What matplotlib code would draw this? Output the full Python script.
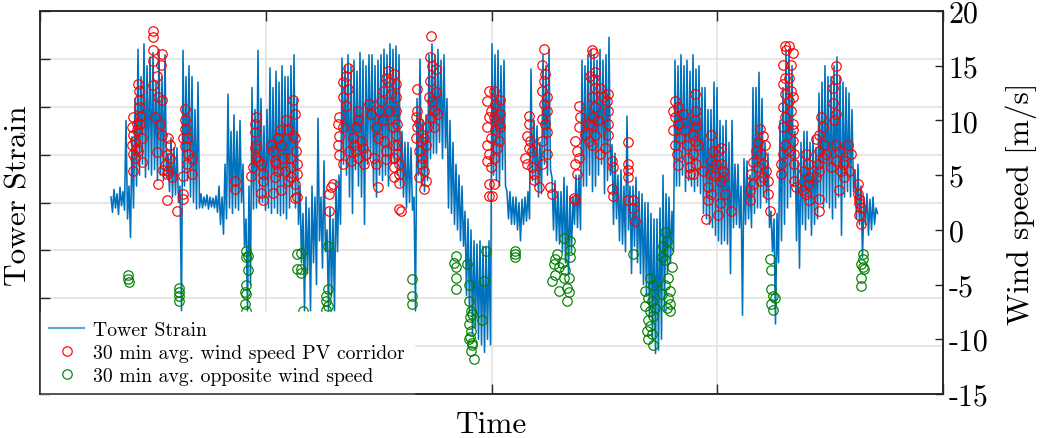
import numpy as np
import matplotlib
matplotlib.use("Agg")
import matplotlib.pyplot as plt
from matplotlib.lines import Line2D

plt.rcParams['font.family'] = 'serif'
plt.rcParams['font.serif'] = ['cmr10']
plt.rcParams['mathtext.fontset'] = 'cm'
plt.rcParams['axes.unicode_minus'] = False
plt.rcParams['axes.formatter.use_mathtext'] = True

# ---------------- data ----------------
# Tower strain: upper and lower swing per sampling interval (left axis, same numeric range as right axis)
strain_start, strain_end = 7.1, 83.6
strain_high = [
    3.0, 3.7, 3.3, 3.9, 3.5, 10.0, 4.0, 8.5, 12.0, 16.5, 14.0, 17.0, 15.0, 15.8,
    16.2, 13.5, 16.5, 14.0, 16.0, 7.0, 8.4, 7.5, 7.5, 4.0, 16.4, 14.0, 15.0,
    14.0, 11.0, 13.5, 3.3, 3.0, 3.2, 3.0, 2.9, 3.1, 4.0, 3.0, 6.0, 12.4, 9.0,
    10.5, 9.0, 10.0, 6.0, 1.0, 4.0, 13.0, 11.0, 16.4, 12.0, 9.5, 11.0, 14.8, 13.0, 14.5,
    13.5, 15.0, 14.0, 14.0, 15.0, 16.0, 12.0, 4.0, 1.5, 3.0, 2.0, 4.0, 3.0,
    10.2, 3.0, 6.3, 0.0, 2.0, 1.0, 4.5, 5.0,
    15.7, 15.0, 16.0, 15.0, 15.5, 14.5, 16.2, 15.5, 15.0, 16.0, 16.0, 15.0, 15.5, 16.0, 16.5, 16.0, 17.0, 16.5, 16.8,
    16.0, 9.0, 8.0, 8.0, 7.5, 3.0, 12.0, 15.6, 10.0, 10.5,
    16.0, 17.0, 16.0, 16.5, 15.5, 16.0, 12.0, 10.0, 8.0, 6.0, 5.0, 4.0,
    1.7, 1.0, 0.0, -1.0, -1.3, -1.0, -1.5, -1.5, -1.0,
    17.0, 16.0, 16.4, 15.0, 15.5, 3.5, 3.5, 3.0, 3.0, 2.5, 2.8, 3.0, 3.5,
    14.7, 10.0, 9.5, 8.0, 16.0, 15.0, 16.5, 4.8, 4.5, 3.5, 3.5, 4.8, 4.0, 3.0, 3.0, 5.0, 5.0,
    15.5, 15.0, 16.0, 16.5, 16.0, 15.5, 16.5, 15.5, 16.0, 17.6,
    7.8, 7.0, 5.0, 5.5, 4.0, 10.4, 4.0, 4.0, 4.8, 3.5, 3.3,
    2.5, 2.5, 1.5, 1.0, 1.0, 2.0, 5.0, 3.3, 3.0, 1.7,
    15.5, 15.0, 16.0, 15.0, 15.5, 14.5, 16.0, 14.7, 15.0,
    13.0, 13.0, 11.0, 11.0, 13.5, 13.0, 10.0, 9.5, 10.0, 8.0, 10.0, 6.0, 6.0, 4.0,
    6.5, 6.3, 5.0, 13.0, 13.0, 14.4, 12.0, 8.0, 7.0, 1.7, 1.0, 1.5,
    10.0, 13.0, 16.4, 16.5, 15.0, 9.0, 6.3, 8.0, 9.0, 9.0, 8.0, 8.5, 7.5,
    12.5, 13.5, 15.0, 14.0, 14.0, 15.0, 15.8, 14.0, 13.5, 13.0, 12.5, 11.0,
    5.5, 6.0, 4.0, 3.0, 3.3, 2.8, 3.0, 2.0,
]
strain_low = [
    1.6, 2.0, 1.4, 2.2, 1.8, 1.0, -0.7, 2.0, 4.0, 5.0, 6.0, 4.8, 5.5, 5.0,
    5.5, 4.5, 5.0, 4.5, 4.8, 3.5, 3.0, 3.2, 2.5, -7.4, 4.0, 4.5, 3.0,
    2.5, 1.9, 2.0, 2.0, 2.2, 1.9, 2.1, 2.0, 1.6, 0.5, -0.4, 1.0, 2.0, 1.5,
    2.0, 1.8, 2.5, -1.5, -7.4, -5.0, 1.9, 2.0, 2.5, 2.5, 1.8, 2.0, 1.5, 2.0, 1.5,
    1.3, 1.5, 1.0, 2.0, 3.0, 2.0, 0.5, -3.0, -7.4, -4.0, -7.4, -3.0, -5.0,
    -1.0, -3.5, -2.0, -7.4, -6.0, -7.4, -2.0, 0.5,
    6.0, 5.0, 3.0, 1.5, 5.5, 4.0, 3.0, 0.5, 6.0, 6.5, 4.0, 3.0, 5.0, 4.5, 5.0, 4.0, 6.0, 6.0, 5.0,
    4.0, 3.0, 2.0, 2.5, 1.8, -7.4, 5.0, 4.0, 3.5, 4.5,
    6.5, 7.0, 7.0, 8.0, 6.5, 7.5, 2.0, 1.5, 0.5, 0.0, -1.0, -1.5,
    -6.0, -7.5, -9.5, -9.0, -10.0, -10.5, -11.2, -10.0, -10.5,
    5.0, 4.5, 4.0, 5.5, 4.0, 1.0, 0.5, 0.5, 0.0, -1.0, 0.5, 0.8, 1.0,
    4.5, 4.0, 3.0, 3.3, 6.0, 5.0, 5.5, 0.0, -1.0, -1.3, -2.0, -3.0, -4.0, -2.0, 0.5, 0.2, 0.0,
    4.0, 4.0, 5.0, 3.5, 4.0, 5.0, 6.0, 3.3, 4.5, 5.0,
    0.5, 1.0, -1.0, -1.3, -2.0, 0.0, -4.0, -1.5, -3.0, -4.0, -5.0,
    -6.0, -8.0, -10.0, -11.3, -11.0, -10.0, -7.4, -4.0, -3.0, -2.0,
    4.0, 4.0, 5.0, 3.5, 4.5, 4.0, 3.5, 4.0, 3.3,
    1.5, 1.0, 0.5, 0.2, -0.5, -1.0, -1.3, -1.0, -1.3, -4.0, 0.2, 0.5, 0.2, -7.8,
    0.5, 1.0, 0.2, 1.5, 2.0, 2.0, 3.0, 2.5, 0.2, -2.0, -8.6, -3.0,
    -1.0, 0.5, 2.0, 3.0, 4.0, -1.0, -3.5, 0.5, 0.0, 1.0, -0.5, 0.5, 1.0,
    2.5, 2.0, 2.5, 2.0, 1.0, 2.0, 3.0, -0.5, 3.0, 3.5, 3.0, 3.5,
    1.0, 0.5, -2.5, 0.5, -0.5, 0.0, 0.5, 1.5,
]

# 30 min avg. wind speed in PV corridor [m/s]
red_time = [
    9.33, 9.17, 9.33, 9.5, 9.17, 9.33, 9.67, 9.83, 9.93, 9.93, 9.93, 10.0, 10.0, 9.67, 10.17, 9.83, 10.17, 9.33, 9.67, 9.5,
    11.27, 11.33, 11.27, 11.33, 12.17, 12.1, 11.67, 11.33, 12.17, 11.83, 11.5, 12.0, 12.17, 11.67, 11.83,
    12.83, 13.0, 12.67, 13.0, 12.5, 12.33, 12.83, 12.67, 13.17, 12.67,
    14.5, 14.5, 14.5, 14.67, 14.33, 14.5, 14.83, 15.17, 14.67, 15.17, 14.33, 14.33, 14.33, 13.73,
    19.53, 19.53, 21.63, 21.53, 21.47, 21.57, 21.47, 21.63, 21.3, 21.13, 22.13, 22.3, 22.3, 22.13, 22.3, 21.8,
    23.13, 23.3, 23.47, 23.63, 23.8, 23.97, 24.13, 23.8, 23.47, 23.3, 24.13, 24.63, 24.8, 24.97, 24.97, 25.13, 25.47,
    25.3, 25.47, 25.3, 25.47, 25.63, 25.47, 24.8, 24.47, 24.3, 25.7, 25.7, 25.65,
    28.93, 29.1, 29.27, 28.93,
    30.77, 30.6, 30.27, 30.77, 30.27, 30.6, 29.93, 29.77, 30.27, 29.93, 29.77, 29.93, 30.27, 31.77, 31.77, 31.6, 31.27,
    31.43, 31.6, 31.77, 32.27, 32.1, 32.6, 32.43, 33.43, 33.6, 33.77, 33.93, 34.1, 34.27, 34.6, 34.77, 34.93, 35.1,
    34.27, 33.6, 33.77, 34.43, 34.6, 34.6, 35.27, 35.43, 35.43, 35.43, 35.43, 34.93, 32.93, 33.1, 30.93, 31.1,
    35.57, 35.57, 35.57, 35.73, 35.57, 35.73, 35.73, 35.9, 35.9, 35.9, 35.9, 36.07, 35.4,
    37.73, 37.73, 37.57, 37.9, 37.73, 37.57, 38.07, 37.9, 38.23, 38.07, 37.9, 38.4, 38.57, 38.4, 38.57, 38.73, 38.4,
    39.07, 39.0, 39.23, 39.57, 39.0, 39.57, 38.9, 39.23, 39.4, 39.07, 39.73, 39.4,
    44.9, 44.73, 45.07, 44.9, 44.73, 45.07, 44.73, 44.9, 44.73, 45.07, 44.9, 44.9,
    45.37, 45.53, 46.03, 46.03, 45.87, 46.03, 45.37, 45.53, 45.87, 45.7, 45.37, 45.37, 45.2,
    48.87, 48.87, 48.7, 49.03, 48.87, 49.2, 48.53, 48.7, 49.2, 49.37, 49.37, 49.87,
    50.37, 50.2, 50.53, 50.37, 50.2, 50.7, 50.37, 50.7, 50.2, 50.53, 50.7, 50.2, 50.7, 50.2, 51.03, 51.2,
    53.87, 54.03, 53.87, 53.53, 53.7, 53.87, 53.53, 53.7, 53.37, 53.53, 54.53, 54.87, 54.87, 55.03, 55.2,
    55.33, 55.5, 55.33, 55.5, 55.17, 55.5, 55.33, 55.17, 55.5, 55.17, 56.0, 56.33, 56.83, 56.83, 56.67, 56.83,
    56.83, 56.5, 56.0, 55.83, 57.17, 57.33, 57.17, 57.33,
    58.83, 58.83, 58.83, 58.83, 58.83, 59.33, 59.33, 59.5,
    63.5, 63.33, 63.83, 63.5, 63.83, 63.33, 64.0, 63.5, 63.67, 63.83, 64.33, 64.5, 64.67, 64.83, 65.0,
    65.47, 65.63, 65.47, 65.63, 65.3, 65.47, 65.8, 65.3, 65.63, 65.3, 66.3, 64.97,
    67.13, 67.3, 67.8, 68.13, 67.13, 67.63, 68.13, 68.3, 66.97, 67.47, 67.97, 66.8, 67.13, 66.8, 68.47, 67.97,
    67.8, 66.63, 69.13, 68.3,
    71.97, 72.3, 71.8, 72.47, 71.63, 72.13, 71.3, 72.3, 71.8, 72.63, 71.13, 72.3, 72.8, 71.3, 70.97, 72.8, 70.97,
    72.97, 71.97,
    74.47, 74.63, 74.3, 74.47, 74.3, 74.47, 74.3, 74.47, 74.3, 74.47, 74.3, 74.13, 74.13,
    74.93, 75.27, 75.1, 74.93, 75.1, 74.93, 75.27, 75.1, 75.27, 75.27, 75.27, 74.93, 75.43, 75.43, 75.43, 75.6,
    76.6, 76.77, 76.43, 76.93, 76.77, 76.27, 76.6, 76.93, 77.6, 78.1, 78.27, 77.93, 78.43, 77.93, 78.27, 77.77,
    77.93, 77.6, 78.6, 77.93, 77.93, 79.1,
    79.6, 79.6, 79.27, 79.27, 79.6, 79.43, 79.6, 79.93, 80.77, 81.1, 80.43, 80.1, 80.93, 80.43, 79.93, 79.6, 80.27,
    81.77, 81.77, 81.93, 82.1, 81.93, 82.1, 81.93,
]
red_speed = [
    10.3, 9.4, 8.7, 8.1, 7.8, 6.9, 7.5, 13.3, 12.7, 11.9, 11.2, 10.4, 9.7, 9.1, 8.4, 7.2, 6.2, 5.4, 9.7, 6.6,
    18.2, 17.6, 16.4, 15.4, 16.1, 15.1, 14.1, 13.2, 11.9, 12.1, 10.3, 9.7, 8.7, 7.1, 4.2,
    8.4, 7.8, 6.8, 6.6, 5.9, 5.5, 5.4, 5.1, 4.8, 2.7,
    11.0, 10.0, 9.2, 8.4, 8.4, 7.7, 6.9, 6.5, 6.0, 5.1, 4.9, 3.3, 2.8, 1.7,
    4.5, 3.7, 10.3, 9.7, 8.9, 7.8, 7.5, 6.6, 5.7, 4.9, 6.0, 5.1, 4.5, 3.4, 2.7, 6.3,
    7.8, 7.2, 6.3, 6.0, 8.4, 9.1, 7.8, 5.4, 4.8, 3.4, 3.6, 10.0, 9.1, 6.6, 5.7, 4.8, 4.2,
    11.9, 10.6, 8.7, 8.4, 7.2, 2.9, 4.5, 5.4, 6.6, 5.1, 6.0, 3.0,
    3.3, 3.9, 4.2, 1.7,
    14.8, 14.1, 13.5, 12.9, 12.1, 11.3, 10.3, 9.7, 9.4, 8.6, 7.8, 6.8, 6.0, 10.9, 10.0, 9.4, 8.4,
    7.8, 7.2, 6.6, 7.5, 8.1, 6.9, 6.0, 6.6, 6.0, 3.9, 10.9, 11.8, 12.7, 13.9, 14.5, 13.5, 12.4,
    10.0, 9.4, 8.4, 8.1, 7.2, 6.5, 9.4, 7.8, 6.6, 5.7, 4.8, 10.9, 11.5, 10.6, 7.2, 6.3,
    13.3, 12.1, 10.9, 9.7, 8.7, 7.8, 6.9, 6.0, 5.1, 4.3, 1.9, 1.7, 14.2,
    12.9, 10.9, 10.3, 9.8, 9.4, 8.4, 8.1, 7.2, 6.6, 6.0, 4.8, 5.4, 4.5, 3.7, 7.8, 9.4, 8.4,
    17.7, 15.8, 15.0, 14.7, 13.6, 12.6, 12.1, 11.8, 10.9, 10.3, 10.6, 9.4,
    12.7, 11.8, 10.9, 10.3, 9.4, 8.4, 7.8, 6.9, 6.3, 5.7, 4.2, 3.1,
    12.7, 11.5, 11.9, 10.6, 9.7, 9.4, 10.3, 9.1, 8.1, 7.5, 6.6, 4.2, 3.1,
    10.4, 9.7, 8.6, 8.1, 7.5, 7.2, 6.6, 6.0, 5.7, 5.1, 4.6, 3.9,
    16.5, 15.1, 14.2, 13.6, 12.7, 12.1, 11.5, 10.9, 10.1, 9.7, 8.9, 8.1, 6.9, 6.0, 3.9, 3.3,
    11.3, 10.3, 9.4, 8.1, 7.2, 6.6, 6.0, 5.1, 2.9, 2.7, 8.7, 9.7, 8.1, 14.1, 16.4,
    16.2, 14.4, 13.8, 13.0, 12.1, 11.2, 10.3, 9.5, 8.7, 7.8, 13.0, 12.1, 12.4, 10.9, 11.8, 9.7,
    8.7, 7.5, 6.9, 10.0, 6.3, 5.7, 3.7, 3.1,
    8.0, 6.0, 5.5, 4.8, 2.7, 2.7, 2.0, 0.8,
    11.8, 10.9, 11.2, 10.3, 9.7, 9.1, 8.4, 7.8, 6.9, 5.9, 10.6, 9.1, 7.8, 6.6, 5.1,
    12.4, 10.9, 10.0, 9.5, 8.7, 8.1, 7.8, 6.9, 6.0, 5.1, 5.4, 5.7,
    8.7, 7.2, 7.2, 7.5, 6.3, 6.0, 6.0, 5.4, 5.1, 4.9, 4.5, 3.9, 3.3, 2.7, 3.3, 2.5,
    1.4, 1.0, 1.7, 4.8,
    9.2, 8.6, 8.0, 7.8, 7.2, 6.9, 6.2, 6.0, 5.7, 5.4, 5.1, 4.8, 4.5, 4.2, 3.6, 3.3, 2.7,
    1.7, 4.5,
    16.8, 16.4, 15.1, 13.9, 13.3, 12.4, 11.2, 10.3, 9.4, 7.8, 6.9, 6.0, 5.1,
    16.8, 16.2, 15.1, 13.9, 12.7, 11.8, 12.1, 10.9, 9.7, 9.1, 8.1, 7.2, 6.9, 6.0, 4.5, 3.9,
    6.9, 6.0, 5.4, 4.8, 4.2, 3.6, 3.3, 2.7, 8.3, 10.3, 9.4, 8.7, 7.8, 7.2, 6.6, 6.0,
    5.4, 4.8, 6.9, 2.8, 1.7, 5.7,
    15.0, 13.8, 13.0, 11.6, 10.6, 10.0, 7.8, 7.2, 7.8, 6.9, 6.3, 5.4, 5.4, 4.8, 3.6, 6.3, 6.0,
    4.2, 3.3, 2.5, 2.0, 1.4, 0.5, 2.8,
]

# 30 min avg. opposite wind speed [m/s]
green_time = [
    8.83, 8.83, 8.93, 13.9, 13.9, 13.9, 13.9,
    20.63, 20.8, 20.63, 20.8, 20.63, 20.47, 20.63, 20.47, 20.63, 25.73, 25.73,
    26.1, 26.1, 26.1, 26.27, 28.77, 28.77, 28.6, 28.6, 28.77, 28.6,
    37.23, 37.23, 37.23, 41.57, 41.4, 41.57, 41.57, 41.57, 42.73, 42.9, 42.9, 43.07, 43.23, 42.9, 43.07,
    42.9, 43.23, 43.07, 43.4, 44.23, 44.4, 44.57, 43.0, 43.15, 42.95,
    47.53, 47.53, 47.53, 52.37, 53.03, 53.03, 51.7, 53.03, 51.37, 51.87, 52.53, 51.53, 52.37, 52.87,
    51.2, 52.7, 51.87, 52.87, 52.7, 52.2, 51.53,
    59.33, 61.0, 61.33, 60.5, 60.83, 61.17, 60.5, 61.5, 61.0, 61.33, 60.83, 61.0, 60.67, 61.17, 60.83, 61.33,
    62.5, 62.67, 62.33, 62.83, 62.17, 62.5, 63.17, 62.83, 62.5, 63.0, 62.17, 62.83, 63.0, 62.67, 63.0,
    72.97, 73.13, 73.13, 73.3, 73.47, 73.13, 73.3,
    82.27, 82.27, 82.1, 82.27, 82.43, 82.1, 82.1,
]
green_speed = [
    -4.1, -4.5, -4.8, -5.3, -5.7, -6.0, -6.5,
    -1.9, -2.4, -2.5, -3.7, -5.0, -5.7, -5.9, -6.8, -7.4, -2.2, -3.6,
    -2.1, -3.6, -3.9, -7.4, -1.5, -5.4, -6.0, -6.5, -7.0, -7.3,
    -4.5, -6.0, -6.8, -2.4, -3.0, -3.4, -4.4, -5.4, -3.1, -5.0, -6.5, -7.4, -7.7, -8.6, -9.2,
    -10.0, -10.5, -11.1, -11.8, -8.2, -4.7, -1.9, -9.8, -10.3, -8.0,
    -1.9, -2.2, -2.5, -0.7, -1.0, -1.8, -2.2, -2.5, -3.1, -3.4, -3.7, -4.1, -4.4, -4.4,
    -4.7, -5.3, -5.6, -5.7, -6.5, -3.0, -2.7,
    -2.2, -4.4, -5.0, -5.6, -6.2, -6.5, -7.0, -7.1, -7.4, -7.9, -8.2, -8.8, -9.2, -9.5, -10.0, -10.5,
    -0.2, -1.0, -1.5, -1.9, -2.5, -2.8, -3.4, -4.4, -5.0, -5.6, -5.9, -6.2, -6.8, -7.1, -7.4,
    -2.7, -3.7, -5.4, -6.0, -6.2, -6.8, -7.3,
    -2.2, -2.7, -3.1, -3.4, -3.6, -4.4, -5.1,
]

speed_ticks = [-15, -10, -5, 0, 5, 10, 15, 20]
speed_tick_labels = ['-15', '-10', '-5', '0', '5', '10', '15', '20']
time_limits = (0, 90.3)
speed_limits = (-15, 20)

labels = ['Tower Strain', '30 min avg. wind speed PV corridor', '30 min avg. opposite wind speed']

# ---------------- plot ----------------
blue = '#0072BD'
red = '#FF0000'
green = '#008000'
dark = '#262626'

fig = plt.figure(figsize=(10.49, 4.39), dpi=100)
ax = fig.add_axes([40 / 1049, 1 - 395 / 439, 903 / 1049, 383 / 439])

# the strain record swings between its upper and lower value in every sampling interval
n = len(strain_high)
t_high = np.linspace(strain_start, strain_end, n)
half = (strain_end - strain_start) / (n - 1) / 2
t_low = t_high + half
strain_t = np.column_stack([t_high, t_low]).ravel()
strain_v = np.column_stack([strain_high, strain_low]).ravel()
ax.plot(strain_t, strain_v, color=blue, lw=1.15, zorder=2)

ax.set_xlim(*time_limits)
ax.set_ylim(*speed_limits)
ax.set_xticks(np.linspace(time_limits[0], time_limits[1], 5))
ax.set_yticks(np.linspace(speed_limits[0], speed_limits[1], 9))
ax.set_xticklabels([])
ax.set_yticklabels([])
ax.grid(True, color='#e3e3e3', lw=1.2, zorder=0)
ax.set_axisbelow(True)
ax.tick_params(axis='both', direction='in', length=7, width=1.0, color=dark, top=True, right=False)
ax.set_ylabel('Tower Strain', fontsize=22.5)
ax.yaxis.set_label_coords(-7 / 903, 0.52)
ax.set_xlabel('Time', fontsize=22.5, labelpad=8)

ax2 = ax.twinx()
ax2.plot(red_time, red_speed, ls='none', marker='o', ms=6.8, mfc='none', mec=red, mew=0.85)
ax2.plot(green_time, green_speed, ls='none', marker='o', ms=6.8, mfc='none', mec=green, mew=0.85)
ax2.set_ylim(*speed_limits)
ax2.set_yticks(speed_ticks)
ax2.set_yticklabels(speed_tick_labels)
ax2.tick_params(axis='y', direction='in', length=6, width=1.0, color=dark, labelsize=21.5, pad=4,
                labelcolor='black')
ax2.set_ylabel('Wind speed [m/s]', fontsize=22.5, labelpad=12)

for a in (ax, ax2):
    for s in a.spines.values():
        s.set_color(dark)
        s.set_linewidth(1.1)
        s.set_zorder(5)

handles = [
    Line2D([], [], color='#5ea9de', lw=1.6),
    Line2D([], [], ls='none', marker='o', ms=6.8, mfc='none', mec=red, mew=0.85),
    Line2D([], [], ls='none', marker='o', ms=6.8, mfc='none', mec=green, mew=0.85),
]
leg = ax2.legend(handles, labels, loc='lower left', bbox_to_anchor=(0, 0), borderaxespad=0.0,
                 fontsize=14.2, frameon=True, fancybox=False, framealpha=1, facecolor='white',
                 edgecolor='white', handlelength=1.8, handletextpad=0.45, labelspacing=0.25,
                 borderpad=0.45)
leg.set_zorder(4)

fig.savefig('out.png', dpi=100)
